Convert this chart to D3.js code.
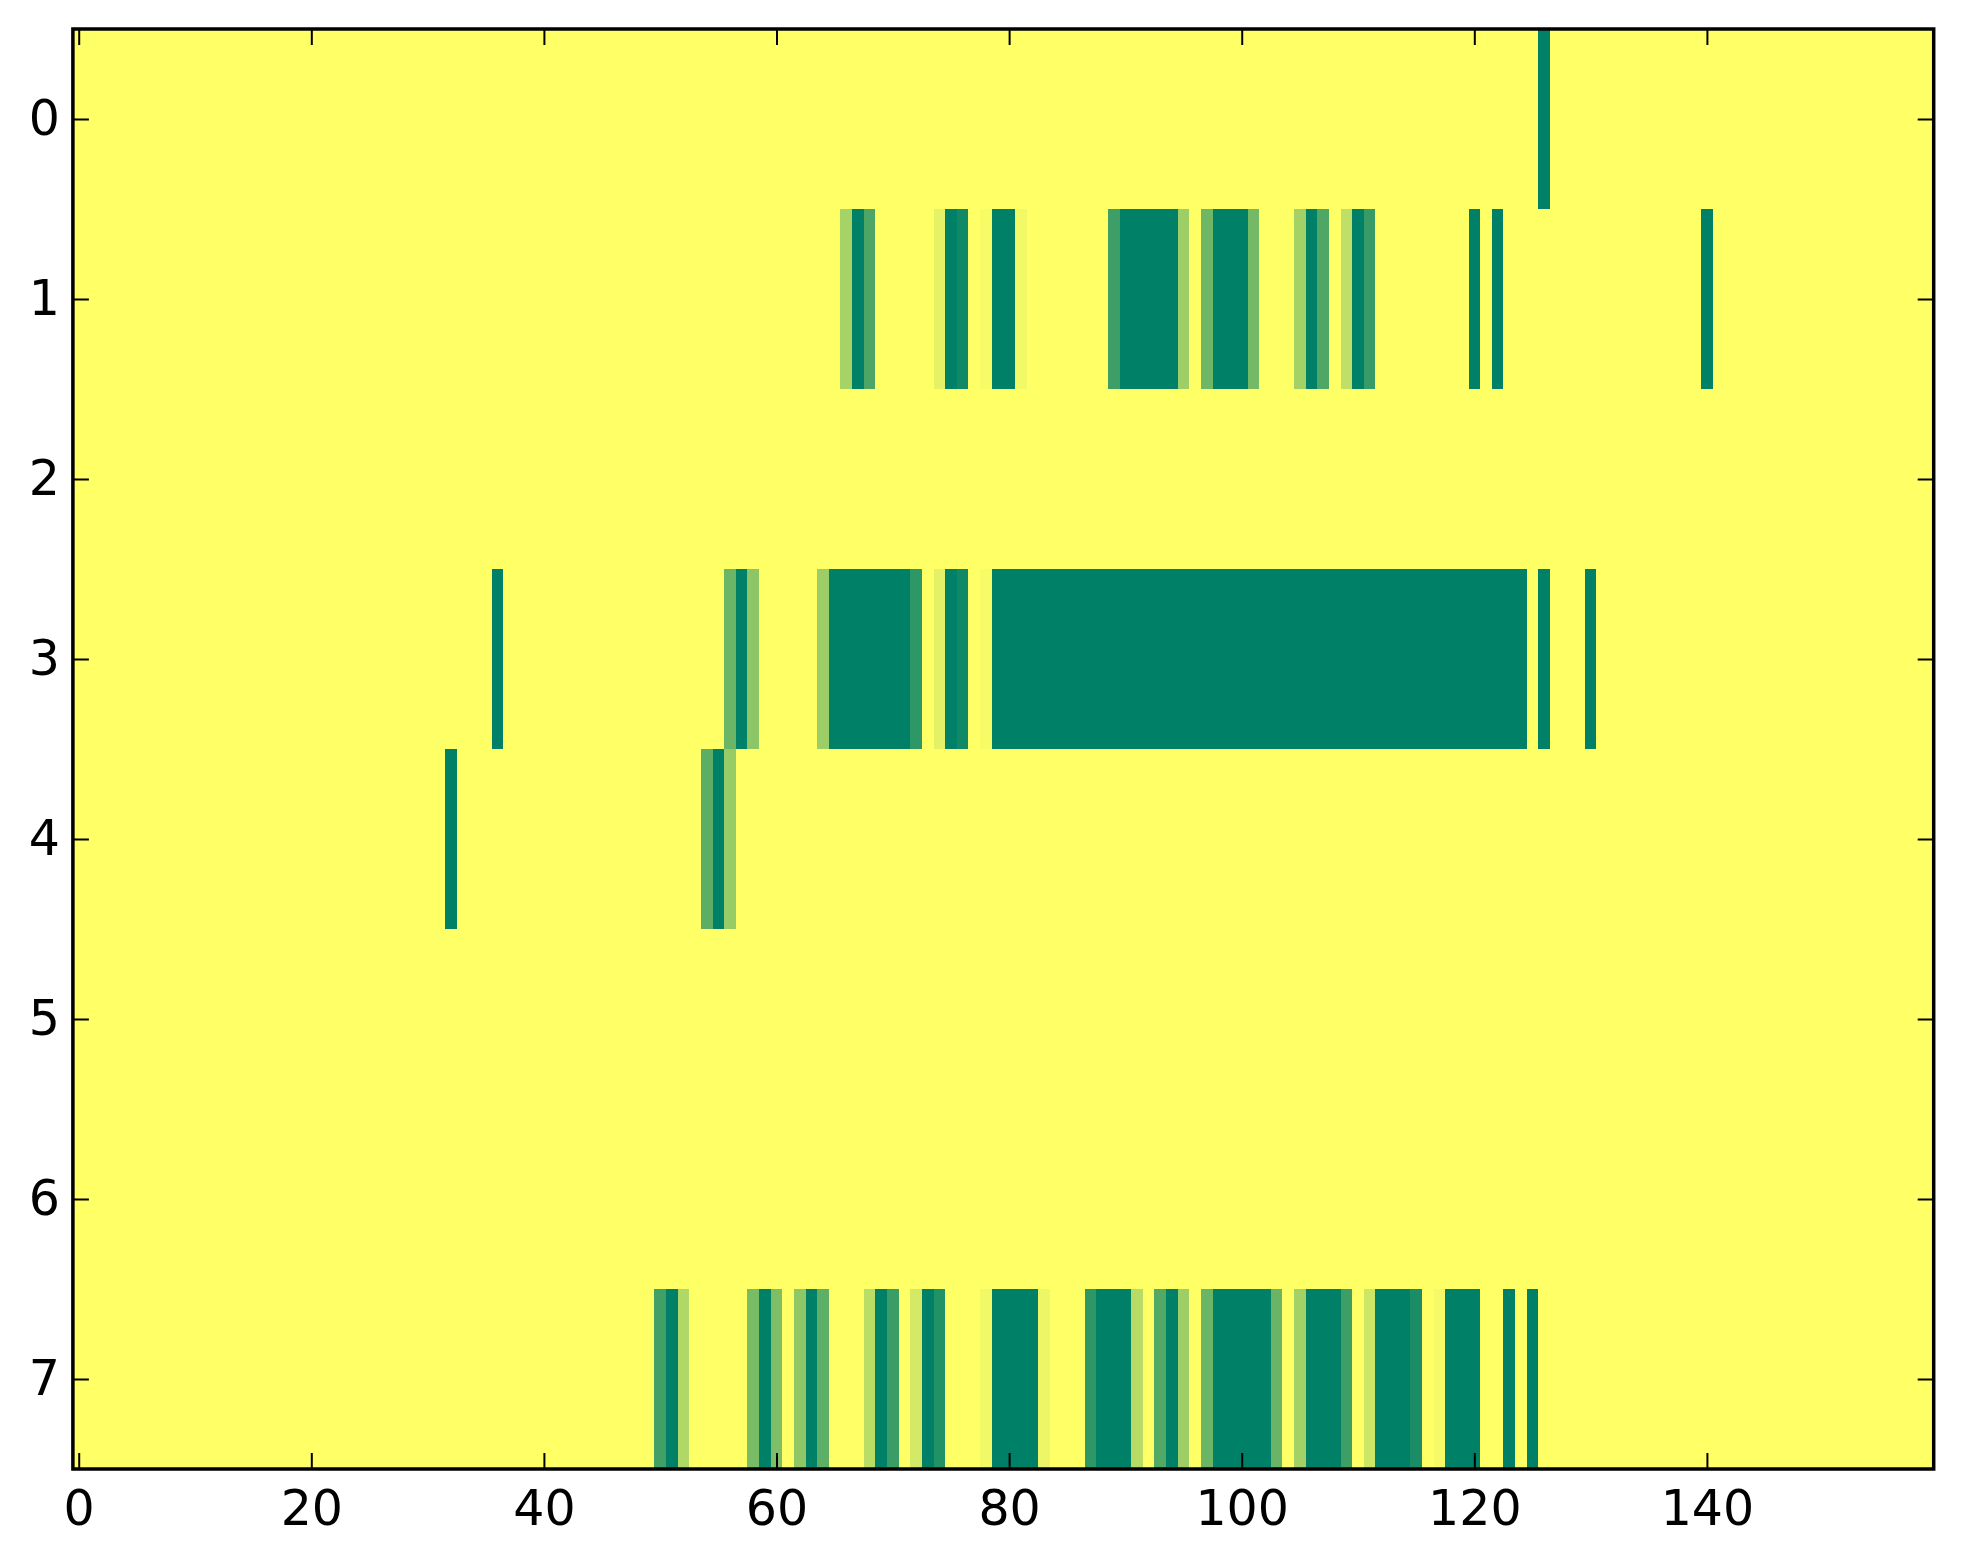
<!DOCTYPE html>
<html>
<head>
<meta charset="utf-8">
<script src="https://cdn.jsdelivr.net/npm/d3@7"></script>
<style>
  body { margin: 0; background: #fff; }
  svg { display: block; }
  text { font-family: "DejaVu Sans", sans-serif; }
</style>
</head>
<body>
<svg width="1963" height="1564"></svg>
<script>
// number of columns and rows in the matrix
var nCols = 160;
var rowLabels = [0, 1, 2, 3, 4, 5, 6, 7];
var xTicks = [0, 20, 40, 60, 80, 100, 120, 140];

// non-zero cells of each row as [fromCol, toCol, value]; everything else is 0
var row0 = [[126, 126, 1]];
var row1 = [[66, 66, 0.35], [67, 67, 1], [68, 68, 0.7], [74, 74, 0.1], [75, 75, 1], [76, 76, 0.93],
            [78, 78, 0.03], [79, 80, 1], [81, 81, 0.05], [89, 89, 0.76], [90, 94, 1], [95, 95, 0.38],
            [97, 97, 0.57], [98, 100, 1], [101, 101, 0.55], [105, 105, 0.36], [106, 106, 1],
            [107, 107, 0.69], [109, 109, 0.25], [110, 110, 1], [111, 111, 0.79], [120, 120, 1],
            [122, 122, 1], [140, 140, 1]];
var row2 = [];
var row3 = [[36, 36, 1], [56, 56, 0.58], [57, 57, 1], [58, 58, 0.45], [64, 64, 0.39], [65, 71, 1],
            [72, 72, 0.82], [74, 74, 0.11], [75, 75, 1], [76, 76, 0.93], [78, 78, 0.03], [79, 124, 1],
            [126, 126, 1], [130, 130, 1]];
var row4 = [[32, 32, 1], [54, 54, 0.64], [55, 55, 1], [56, 56, 0.41]];
var row5 = [];
var row6 = [];
var row7 = [[50, 50, 0.75], [51, 51, 1], [52, 52, 0.31], [58, 58, 0.53], [59, 59, 1], [60, 60, 0.51],
            [62, 62, 0.44], [63, 63, 1], [64, 64, 0.63], [68, 68, 0.27], [69, 69, 1], [70, 70, 0.77],
            [72, 72, 0.17], [73, 73, 1], [74, 74, 0.87], [78, 78, 0.05], [79, 82, 1], [83, 83, 0.07],
            [87, 87, 0.82], [88, 90, 1], [91, 91, 0.28], [93, 93, 0.68], [94, 94, 1], [95, 95, 0.38],
            [97, 97, 0.58], [98, 102, 1], [103, 103, 0.59], [105, 105, 0.36], [106, 108, 1],
            [109, 109, 0.76], [111, 111, 0.2], [112, 114, 1], [115, 115, 0.9], [117, 117, 0.04],
            [118, 120, 1], [123, 123, 1], [125, 125, 1]];
var rows = [row0, row1, row2, row3, row4, row5, row6, row7];

var svg = d3.select("svg");

// plot area edges (window.top is read-only, so use other names)
var plotLeft = 72.9, plotRight = 1933.7, plotTop = 29, plotBottom = 1469;

var x = d3.scaleLinear().domain([-0.5, nCols - 0.5]).range([plotLeft, plotRight]);
var y = d3.scaleLinear().domain([-0.5, rowLabels.length - 0.5]).range([plotTop, plotBottom]);

// summer_r: 0 -> yellow, 1 -> green
var color = d3.scaleSequential(d3.interpolateRgb("#ffff66", "#008066")).domain([0, 1]);

// build the full grid
var cells = [];
rows.forEach(function (runs, r) {
    var vals = new Array(nCols).fill(0);
    runs.forEach(function (run) {
        for (var c = run[0]; c <= run[1]; c++) vals[c] = run[2];
    });
    vals.forEach(function (v, c) {
        cells.push({ row: r, col: c, value: v });
    });
});

svg.append("g")
    .attr("shape-rendering", "crispEdges")
    .selectAll("rect").data(cells).enter()
    .append("rect")
    .attr("x", function (d) { return x(d.col - 0.5); })
    .attr("y", function (d) { return y(d.row - 0.5); })
    .attr("width", function (d) { return x(d.col + 0.5) - x(d.col - 0.5) + 0.6; })
    .attr("height", function (d) { return y(d.row + 0.5) - y(d.row - 0.5) + 0.6; })
    .attr("fill", function (d) { return color(d.value); });

var fontSize = 49;

var styleAxis = function (g) {
    g.select(".domain").remove();
    g.selectAll(".tick line").attr("stroke", "#000").attr("stroke-width", 2);
    g.selectAll(".tick text").attr("fill", "#000").style("font-size", fontSize + "px")
        .style("font-family", "'DejaVu Sans', sans-serif");
};

svg.append("g")
    .attr("transform", "translate(0," + plotBottom + ")")
    .call(d3.axisBottom(x).tickValues(xTicks).tickSize(-16).tickPadding(21))
    .call(styleAxis);

svg.append("g")
    .attr("transform", "translate(0," + plotTop + ")")
    .call(d3.axisTop(x).tickValues(xTicks).tickSize(-16).tickFormat(""))
    .call(styleAxis);

svg.append("g")
    .attr("transform", "translate(" + plotLeft + ",0)")
    .call(d3.axisLeft(y).tickValues(rowLabels).tickSize(-16).tickPadding(13))
    .call(styleAxis);

svg.append("g")
    .attr("transform", "translate(" + plotRight + ",0)")
    .call(d3.axisRight(y).tickValues(rowLabels).tickSize(-16).tickFormat(""))
    .call(styleAxis);

// frame
svg.append("rect")
    .attr("x", plotLeft).attr("y", plotTop)
    .attr("width", plotRight - plotLeft).attr("height", plotBottom - plotTop)
    .attr("fill", "none").attr("stroke", "#000").attr("stroke-width", 3.5);
</script>
</body>
</html>
